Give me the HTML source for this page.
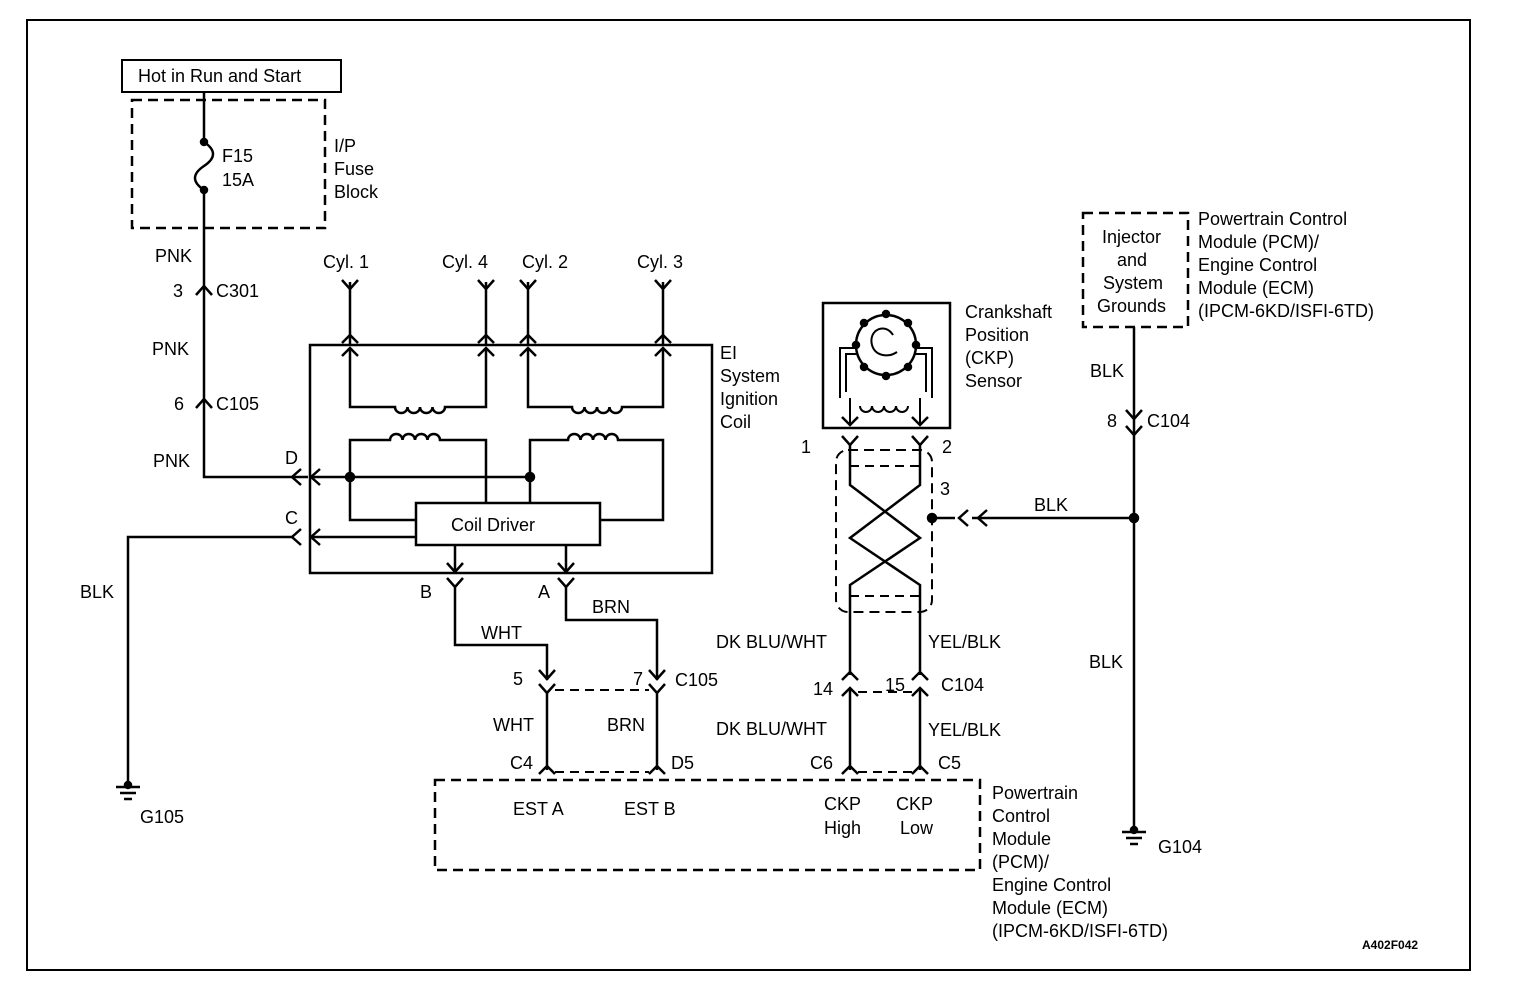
<!DOCTYPE html>
<html><head><meta charset="utf-8"><style>
html,body{margin:0;padding:0;background:#fff}
svg{display:block}
text{font-family:"Liberation Sans",Arial,sans-serif;font-size:18px;fill:#000}
</style></head><body>
<svg width="1520" height="988" viewBox="0 0 1520 988" xmlns="http://www.w3.org/2000/svg">
<g fill="none" stroke="#000" stroke-width="2.5">
<rect x="27" y="20" width="1443" height="950" stroke-width="2"/>
<rect x="122" y="60" width="219" height="32" stroke-width="2"/>
<rect x="132" y="100" width="193" height="128" stroke-dasharray="10,6"/>
<path d="M204 92 V142 C216 150,216 158,204 166 C192 174,192 182,204 190 V477 H308"/>
<circle cx="204" cy="142" r="3" fill="#000"/><circle cx="204" cy="190" r="3" fill="#000"/>
<polyline points="196,295 204,286 212,295"/>
<polyline points="196,408 204,399 212,408"/>
<polyline points="301,469 292,477 301,485"/>
<polyline points="320,469 311,477 320,485"/>
<path d="M293 537 H128 V785"/>
<polyline points="301,529 292,537 301,545"/>
<polyline points="320,529 311,537 320,545"/>
<path d="M116 787 H140 M120 793 H136 M124 799 H132"/>
<circle cx="128" cy="785" r="3" fill="#000"/>
<rect x="310" y="345" width="402" height="228"/>
<path d="M350 282 V345 M486 282 V345 M528 282 V345 M663 282 V345"/>
<polyline points="342,280 350,289 358,280"/><polyline points="478,280 486,289 494,280"/>
<polyline points="520,280 528,289 536,280"/><polyline points="655,280 663,289 671,280"/>
<polyline points="342,343 350,335 358,343"/><polyline points="478,343 486,335 494,343"/>
<polyline points="520,343 528,335 536,343"/><polyline points="655,343 663,335 671,343"/>
<polyline points="342,356 350,348 358,356"/><polyline points="478,356 486,348 494,356"/>
<polyline points="520,356 528,348 536,356"/><polyline points="655,356 663,348 671,356"/>
<path d="M350 348 V407 H395 a6.25 6 0 0 0 12.5 0 a6.25 6 0 0 0 12.5 0 a6.25 6 0 0 0 12.5 0 a6.25 6 0 0 0 12.5 0 H486 V348"/>
<path d="M528 348 V407 H572 a6.25 6 0 0 0 12.5 0 a6.25 6 0 0 0 12.5 0 a6.25 6 0 0 0 12.5 0 a6.25 6 0 0 0 12.5 0 H663 V348"/>
<path d="M416 520 H350 V440 H390 a6.25 6 0 0 1 12.5 0 a6.25 6 0 0 1 12.5 0 a6.25 6 0 0 1 12.5 0 a6.25 6 0 0 1 12.5 0 H486 V503"/>
<path d="M530 503 V440 H568 a6.25 6 0 0 1 12.5 0 a6.25 6 0 0 1 12.5 0 a6.25 6 0 0 1 12.5 0 a6.25 6 0 0 1 12.5 0 H663 V520 H600"/>
<path d="M310 477 H530 M310 537 H416"/>
<circle cx="350" cy="477" r="4" fill="#000"/><circle cx="530" cy="477" r="4" fill="#000"/>
<rect x="416" y="503" width="184" height="42"/>
<path d="M455 545 V572 M566 545 V572"/>
<polyline points="447,563 455,572 463,563"/><polyline points="558,563 566,572 574,563"/>
<polyline points="447,578 455,587 463,578"/><polyline points="558,578 566,587 574,578"/>
<path d="M455 587 V645 H547 V680 M566 587 V620 H657 V680"/>
<polyline points="539,670 547,679 555,670"/><polyline points="649,670 657,679 665,670"/>
<polyline points="539,684 547,693 555,684"/><polyline points="649,684 657,693 665,684"/>
<path d="M547 693 V770 M657 693 V770"/>
<polyline points="539,774 547,766 555,774"/><polyline points="649,774 657,766 665,774"/>
<path d="M555 690 H649 M555 772 H649" stroke-dasharray="9,6" stroke-width="2"/>
<rect x="435" y="780" width="545" height="90" stroke-dasharray="10,6"/>
<rect x="823" y="303" width="127" height="125"/>
<path d="M840 398 V348 H932 V398 M846 392 V354 H926 V392" stroke-width="2"/>
<circle cx="886" cy="345" r="30" fill="#fff"/>
<path d="M893 335 C885 322,868 330,872 345 C875 356,888 358,897 352" stroke-width="2"/>
<g fill="#000"><circle cx="886" cy="314" r="3"/><circle cx="908" cy="323" r="3"/><circle cx="916" cy="345" r="3"/><circle cx="908" cy="367" r="3"/><circle cx="886" cy="376" r="3"/><circle cx="864" cy="367" r="3"/><circle cx="856" cy="345" r="3"/><circle cx="864" cy="323" r="3"/></g>
<path d="M850 398 V425 M920 398 V425 M860 406 a6 6 0 0 0 12 0 a6 6 0 0 0 12 0 a6 6 0 0 0 12 0 a6 6 0 0 0 12 0" stroke-width="2"/>
<polyline points="842,417 850,425 858,417"/><polyline points="912,417 920,425 928,417"/>
<polyline points="842,436 850,445 858,436"/><polyline points="912,436 920,445 928,436"/>
<path d="M850 445 V485 L920 538 L850 585 V675 M920 445 V485 L850 538 L920 585 V675"/>
<rect x="836" y="450" width="96" height="162" rx="12" stroke-dasharray="10,6" stroke-width="2"/>
<path d="M850 466 H920 M850 596 H920" stroke-dasharray="9,6" stroke-width="2"/>
<circle cx="932" cy="518" r="4" fill="#000"/>
<path d="M932 518 H955 M972 518 H1134"/>
<polyline points="968,510 959,518 968,526"/><polyline points="987,510 978,518 987,526"/>
<polyline points="842,680 850,672 858,680"/><polyline points="912,680 920,672 928,680"/>
<polyline points="842,696 850,688 858,696"/><polyline points="912,696 920,688 928,696"/>
<path d="M850 688 V770 M920 688 V770"/>
<polyline points="842,774 850,766 858,774"/><polyline points="912,774 920,766 928,774"/>
<path d="M858 692 H912 M858 772 H912" stroke-dasharray="9,6" stroke-width="2"/>
<rect x="1083" y="213" width="105" height="114" stroke-dasharray="10,6"/>
<path d="M1134 327 V830"/>
<polyline points="1126,410 1134,419 1142,410"/><polyline points="1126,426 1134,435 1142,426"/>
<circle cx="1134" cy="518" r="4" fill="#000"/>
<circle cx="1134" cy="830" r="3" fill="#000"/>
<path d="M1122 832 H1146 M1126 838 H1142 M1130 844 H1138"/>
</g>
<text x="138" y="82">Hot in Run and Start</text>
<text x="222" y="162">F15</text><text x="222" y="186">15A</text>
<text x="334" y="152">I/P</text><text x="334" y="175">Fuse</text><text x="334" y="198">Block</text>
<text x="155" y="262">PNK</text><text x="173" y="297">3</text><text x="216" y="297">C301</text>
<text x="152" y="355">PNK</text><text x="174" y="410">6</text><text x="216" y="410">C105</text>
<text x="153" y="467">PNK</text><text x="285" y="464">D</text><text x="285" y="524">C</text>
<text x="80" y="598">BLK</text><text x="140" y="823">G105</text>
<text x="323" y="268">Cyl. 1</text><text x="442" y="268">Cyl. 4</text><text x="522" y="268">Cyl. 2</text><text x="637" y="268">Cyl. 3</text>
<text x="720" y="359">EI</text><text x="720" y="382">System</text><text x="720" y="405">Ignition</text><text x="720" y="428">Coil</text>
<text x="451" y="531">Coil Driver</text>
<text x="420" y="598">B</text><text x="538" y="598">A</text>
<text x="481" y="639">WHT</text><text x="592" y="613">BRN</text>
<text x="513" y="685">5</text><text x="633" y="685">7</text><text x="675" y="686">C105</text>
<text x="493" y="731">WHT</text><text x="607" y="731">BRN</text>
<text x="510" y="769">C4</text><text x="671" y="769">D5</text>
<text x="513" y="815">EST A</text><text x="624" y="815">EST B</text>
<text x="824" y="810">CKP</text><text x="824" y="834">High</text><text x="896" y="810">CKP</text><text x="900" y="834">Low</text>
<text x="992" y="799">Powertrain</text><text x="992" y="822">Control</text><text x="992" y="845">Module</text><text x="992" y="868">(PCM)/</text><text x="992" y="891">Engine Control</text><text x="992" y="914">Module (ECM)</text><text x="992" y="937">(IPCM-6KD/ISFI-6TD)</text>
<text x="965" y="318">Crankshaft</text><text x="965" y="341">Position</text><text x="965" y="364">(CKP)</text><text x="965" y="387">Sensor</text>
<text x="801" y="453">1</text><text x="942" y="453">2</text><text x="940" y="495">3</text>
<text x="1034" y="511">BLK</text>
<text x="716" y="648">DK BLU/WHT</text><text x="928" y="648">YEL/BLK</text>
<text x="813" y="695">14</text><text x="885" y="691">15</text><text x="941" y="691">C104</text>
<text x="716" y="735">DK BLU/WHT</text><text x="928" y="736">YEL/BLK</text>
<text x="810" y="769">C6</text><text x="938" y="769">C5</text>
<text x="1102" y="243">Injector</text><text x="1117" y="266">and</text><text x="1103" y="289">System</text><text x="1097" y="312">Grounds</text>
<text x="1198" y="225">Powertrain Control</text><text x="1198" y="248">Module (PCM)/</text><text x="1198" y="271">Engine Control</text><text x="1198" y="294">Module (ECM)</text><text x="1198" y="317">(IPCM-6KD/ISFI-6TD)</text>
<text x="1090" y="377">BLK</text><text x="1107" y="427">8</text><text x="1147" y="427">C104</text>
<text x="1089" y="668">BLK</text><text x="1158" y="853">G104</text>
<text x="1362" y="949" style="font-size:12px;font-weight:bold">A402F042</text>
</svg>
</body></html>
